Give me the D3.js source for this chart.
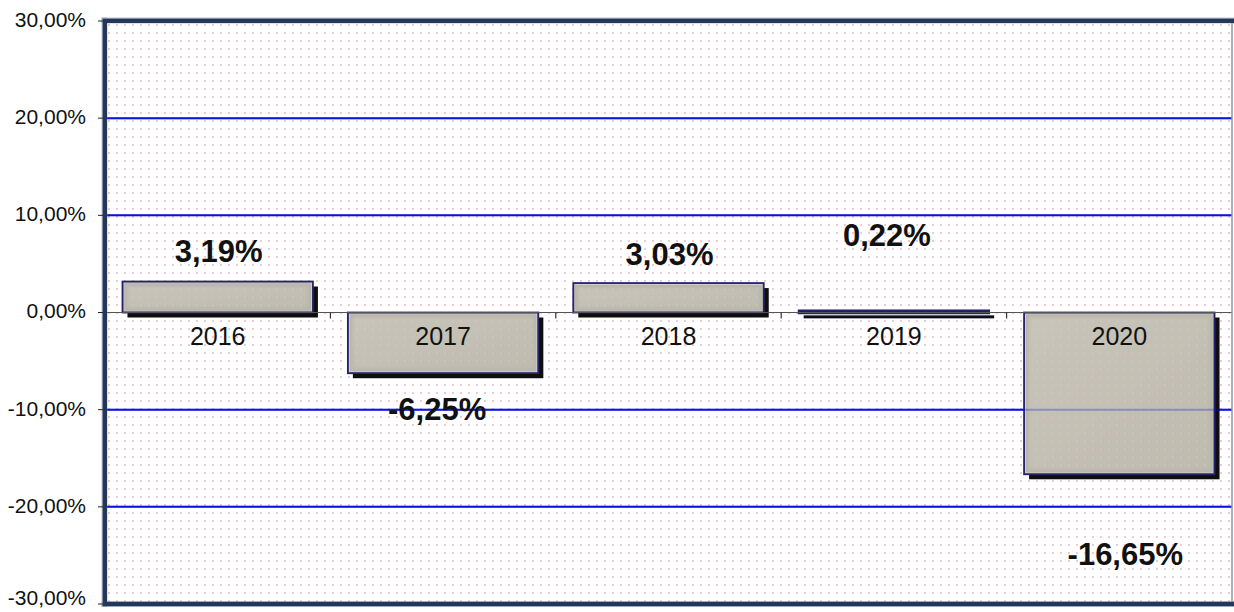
<!DOCTYPE html>
<html>
<head>
<meta charset="utf-8">
<script src="https://cdn.jsdelivr.net/npm/d3@7"></script>
<style>
  html, body { margin: 0; padding: 0; background: #ffffff; }
  svg { display: block; font-family: "Liberation Sans", Arial, sans-serif; }
</style>
</head>
<body>
<svg id="chart" width="1234" height="612"></svg>
<script>
// Annual change, 2016–2020
const years = ["2016", "2017", "2018", "2019", "2020"];
const changes = [3.19, -6.25, 3.03, 0.22, -16.65];
const valueLabels = ["3,19%", "-6,25%", "3,03%", "0,22%", "-16,65%"];
const tickValues = [-30, -20, -10, 0, 10, 20, 30];
const tickLabels = ["-30,00%", "-20,00%", "-10,00%", "0,00%", "10,00%", "20,00%", "30,00%"];

const svg = d3.select("#chart");
const plotLeft = 105, plotRight = 1232, plotTop = 21, plotBottom = 604;

const x = d3.scaleBand().domain(years).range([plotLeft, plotRight])
  .paddingInner(0.155).paddingOuter(0.0775);
const y = d3.scaleLinear().domain([-30, 30]).range([plotBottom, plotTop]);

const rows = years.map((year, i) => ({ year, value: changes[i], label: valueLabels[i] }));

const defs = svg.append("defs");

// dotted plot background
const pat = defs.append("pattern").attr("id", "dots")
  .attr("patternUnits", "userSpaceOnUse").attr("width", 8).attr("height", 8)
  .attr("x", plotLeft + 3).attr("y", plotTop + 3);
pat.append("rect").attr("width", 2).attr("height", 2).attr("fill", "#f0c9d3")
  .attr("shape-rendering", "crispEdges");

// soft edge for the bevelled bar faces
const blur = defs.append("filter").attr("id", "soft").attr("x", "-10%").attr("y", "-10%")
  .attr("width", "120%").attr("height", "120%");
blur.append("feGaussianBlur").attr("stdDeviation", 1.5);

const grad = defs.append("linearGradient").attr("id", "face")
  .attr("x1", 0).attr("y1", 0).attr("x2", 1).attr("y2", 1);
grad.append("stop").attr("offset", "0%").attr("stop-color", "#c7c4b9");
grad.append("stop").attr("offset", "100%").attr("stop-color", "#bebbaf");

// plot area
svg.append("rect").attr("x", plotLeft).attr("y", plotTop)
  .attr("width", plotRight - plotLeft).attr("height", plotBottom - plotTop)
  .attr("fill", "#ffffff");
svg.append("rect").attr("x", plotLeft).attr("y", plotTop)
  .attr("width", plotRight - plotLeft).attr("height", plotBottom - plotTop)
  .attr("fill", "url(#dots)");

// gridlines
const gridValues = tickValues.filter(v => v !== 0 && Math.abs(v) < 30);
svg.append("g").selectAll("line")
  .data(gridValues)
  .join("line")
  .attr("x1", plotLeft).attr("x2", plotRight)
  .attr("y1", d => y(d)).attr("y2", d => y(d))
  .attr("stroke", "#0a14e6").attr("stroke-width", 2);

// bars: shadow, bevel edge, face, outline
const barTop = d => Math.min(y(d.value), y(0));
const barH = d => Math.max(Math.abs(y(d.value) - y(0)), 3);
const bars = svg.append("g").selectAll("g").data(rows).join("g");

bars.append("rect")
  .attr("x", d => x(d.year) + 5)
  .attr("y", d => barTop(d) + 5)
  .attr("width", x.bandwidth())
  .attr("height", barH)
  .attr("fill", "#0e0e0e");

bars.append("rect")
  .attr("x", d => x(d.year))
  .attr("y", barTop)
  .attr("width", x.bandwidth())
  .attr("height", barH)
  .attr("fill", d => barH(d) > 10 ? "#8c897f" : "#1c1a6a");

const big = bars.filter(d => barH(d) > 10);
big.append("rect")
  .attr("x", d => x(d.year) + 2)
  .attr("y", d => barTop(d) + 2)
  .attr("width", x.bandwidth() - 4)
  .attr("height", d => barH(d) - 4)
  .attr("fill", "#b9b6ab");

big.append("rect")
  .attr("x", d => x(d.year) + 5)
  .attr("y", d => barTop(d) + 5)
  .attr("width", x.bandwidth() - 10)
  .attr("height", d => barH(d) - 10)
  .attr("fill", "url(#face)")
  .attr("filter", "url(#soft)");

// background dots faintly visible on the bar faces
big.append("rect")
  .attr("x", d => x(d.year) + 5)
  .attr("y", d => barTop(d) + 5)
  .attr("width", x.bandwidth() - 10)
  .attr("height", d => barH(d) - 10)
  .attr("fill", "url(#dots)")
  .attr("opacity", 0.25);

big.append("rect")
  .attr("x", d => x(d.year) + 1.5)
  .attr("y", d => barTop(d) + 1.5)
  .attr("width", x.bandwidth() - 3)
  .attr("height", d => barH(d) - 3)
  .attr("fill", "none")
  .attr("stroke", "#e8e6e0")
  .attr("stroke-width", 1)
  .attr("stroke-opacity", 0.8);

bars.append("rect")
  .attr("x", d => x(d.year))
  .attr("y", barTop)
  .attr("width", x.bandwidth())
  .attr("height", barH)
  .attr("fill", "none")
  .attr("stroke", "#25236e")
  .attr("stroke-width", 1.8);

// gridlines showing faintly through the bars
svg.append("g").selectAll("line")
  .data(gridValues)
  .join("line")
  .attr("x1", plotLeft).attr("x2", plotRight)
  .attr("y1", d => y(d)).attr("y2", d => y(d))
  .attr("stroke", "#0a14e6").attr("stroke-width", 2).attr("stroke-opacity", 0.3);

// zero axis with category boundary ticks
svg.append("line")
  .attr("x1", plotLeft).attr("x2", plotRight)
  .attr("y1", y(0)).attr("y2", y(0))
  .attr("stroke", "#555555").attr("stroke-width", 1.2);
const step = x.step();
svg.append("g").selectAll("line")
  .data(d3.range(1, years.length))
  .join("line")
  .attr("x1", k => plotLeft + k * step).attr("x2", k => plotLeft + k * step)
  .attr("y1", y(0)).attr("y2", y(0) + 6)
  .attr("stroke", "#333333").attr("stroke-width", 1.2);

// category labels
svg.append("g").selectAll("text").data(years).join("text")
  .attr("x", d => x(d) + x.bandwidth() / 2)
  .attr("y", y(0) + 32)
  .attr("text-anchor", "middle")
  .attr("font-size", 25)
  .attr("fill", "#111111")
  .text(d => d);

// value labels, nudged clear of the bars
const nudge = {
  "2016": [1, -30], "2017": [-6, 36], "2018": [1, -29],
  "2019": [-7, -75], "2020": [6, 80]
};
svg.append("g").selectAll("text").data(rows).join("text")
  .attr("x", d => x(d.year) + x.bandwidth() / 2 + nudge[d.year][0])
  .attr("y", d => y(d.value) + nudge[d.year][1])
  .attr("dy", "0.35em")
  .attr("text-anchor", "middle")
  .attr("font-size", 31)
  .attr("font-weight", "bold")
  .attr("fill", "#111111")
  .text(d => d.label);

// frame
svg.append("line").attr("x1", plotRight).attr("x2", plotRight).attr("y1", plotTop).attr("y2", plotBottom)
  .attr("stroke", "#8996ab").attr("stroke-width", 1.5);
const frame = svg.append("g").attr("stroke-linecap", "square");
frame.append("line").attr("x1", plotLeft - 0.5).attr("x2", plotRight).attr("y1", plotTop - 0.5).attr("y2", plotTop - 0.5)
  .attr("stroke", "#7f8ea8").attr("stroke-width", 5.5);
frame.append("line").attr("x1", plotLeft - 0.5).attr("x2", plotRight).attr("y1", plotBottom).attr("y2", plotBottom)
  .attr("stroke", "#7f8ea8").attr("stroke-width", 5.5);
frame.append("line").attr("x1", plotLeft - 0.5).attr("x2", plotLeft - 0.5).attr("y1", plotTop - 0.5).attr("y2", plotBottom)
  .attr("stroke", "#7f8ea8").attr("stroke-width", 5.5);
frame.append("line").attr("x1", plotLeft).attr("x2", plotRight).attr("y1", plotTop).attr("y2", plotTop)
  .attr("stroke", "#233858").attr("stroke-width", 4);
frame.append("line").attr("x1", plotLeft).attr("x2", plotRight).attr("y1", plotBottom).attr("y2", plotBottom)
  .attr("stroke", "#233858").attr("stroke-width", 4);
frame.append("line").attr("x1", plotLeft).attr("x2", plotLeft).attr("y1", plotTop).attr("y2", plotBottom)
  .attr("stroke", "#233858").attr("stroke-width", 4);

// value axis; the lowest label is kept inside the page
const yAxis = svg.append("g");
yAxis.selectAll("line").data(tickValues).join("line")
  .attr("x1", plotLeft - 7).attr("x2", plotLeft - 2)
  .attr("y1", d => y(d)).attr("y2", d => y(d))
  .attr("stroke", "#222222").attr("stroke-width", 1);
yAxis.selectAll("text").data(tickValues).join("text")
  .attr("x", 86)
  .attr("y", d => Math.min(y(d) - 1.5, 598))
  .attr("dy", "0.35em")
  .attr("text-anchor", "end")
  .attr("font-size", 21)
  .attr("fill", "#111111")
  .text((d, i) => tickLabels[i]);
</script>
</body>
</html>
